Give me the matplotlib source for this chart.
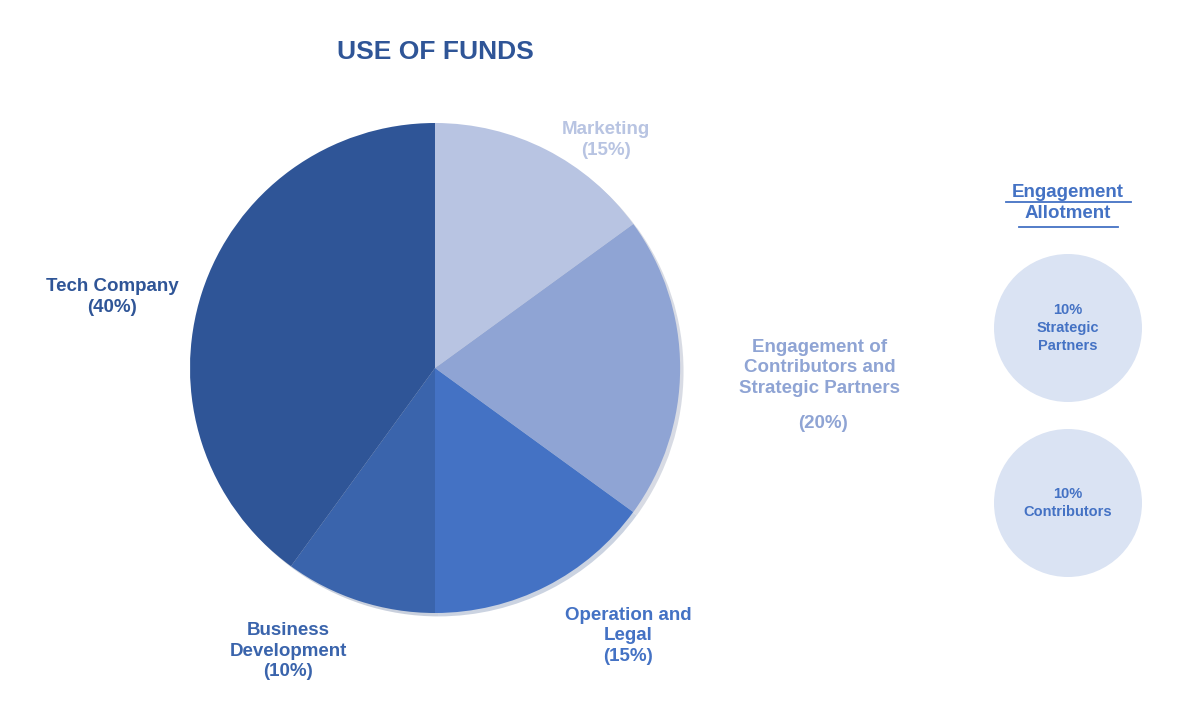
import matplotlib.pyplot as plt
from matplotlib.patches import Circle

plt.rcParams['font.family'] = ['Liberation Sans', 'DejaVu Sans']

labels = ["Marketing\n(15%)", "Engagement of\nContributors and\nStrategic Partners", "Operation and\nLegal\n(15%)",
          "Business\nDevelopment\n(10%)", "Tech Company\n(40%)"]
shares = [15, 20, 15, 10, 40]
colors = ["#B8C4E2", "#8FA4D4", "#4472C4", "#3A64AC", "#2F5597"]
explode = [0, 0.135, 0, 0, 0]
label_pos = [(606, 140), (820, 368), (628, 636), (288, 651), (112, 297)]
label_colors = ["#B8C4E2", "#8FA4D4", "#4472C4", "#3A64AC", "#2F5597"]

allot_labels = ["10%\nStrategic\nPartners", "10%\nContributors"]
allot_pos = [(1068, 328), (1068, 503)]

W, H = 1195, 713
fig = plt.figure(figsize=(W / 100, H / 100), dpi=100)
ax = fig.add_axes([0, 0, 1, 1])
ax.set_xlim(0, W)
ax.set_ylim(0, H)
ax.set_aspect('equal')
ax.axis('off')

ax.pie(shares, colors=colors, explode=explode, startangle=90, counterclock=False,
       center=(435, H - 368), radius=245, wedgeprops=dict(linewidth=0),
       shadow=dict(ox=0.01 * 245, oy=-0.01 * 245, shade=0.3, alpha=0.25))
ax.set_xlim(0, W)
ax.set_ylim(0, H)

ax.text(435, H - 52, "USE OF FUNDS", ha='center', va='center', fontsize=19,
        fontweight='bold', color="#2F5597")

for lab, (x, y), c in zip(labels, label_pos, label_colors):
    ax.text(x, H - y, lab, ha='center', va='center', fontsize=13.5, fontweight='bold',
            color=c, linespacing=1.25)
ax.text(823, H - 423, "(20%)", ha='center', va='center', fontsize=13.5,
        fontweight='bold', color="#8FA4D4")

ax.text(1068, H - 203, "Engagement\nAllotment", ha='center', va='center', fontsize=13.5,
        fontweight='bold', color="#4472C4", linespacing=1.3)
ax.plot([1006, 1131], [H - 202, H - 202], color="#4472C4", lw=1.3)
ax.plot([1019, 1118], [H - 227, H - 227], color="#4472C4", lw=1.3)

for lab, (x, y) in zip(allot_labels, allot_pos):
    ax.add_patch(Circle((x, H - y), 74, color="#DAE3F3", lw=0))
    ax.text(x, H - y, lab, ha='center', va='center', fontsize=10.5, fontweight='bold',
            color="#4472C4", linespacing=1.4)

fig.savefig("out.png", dpi=100, facecolor='white')
